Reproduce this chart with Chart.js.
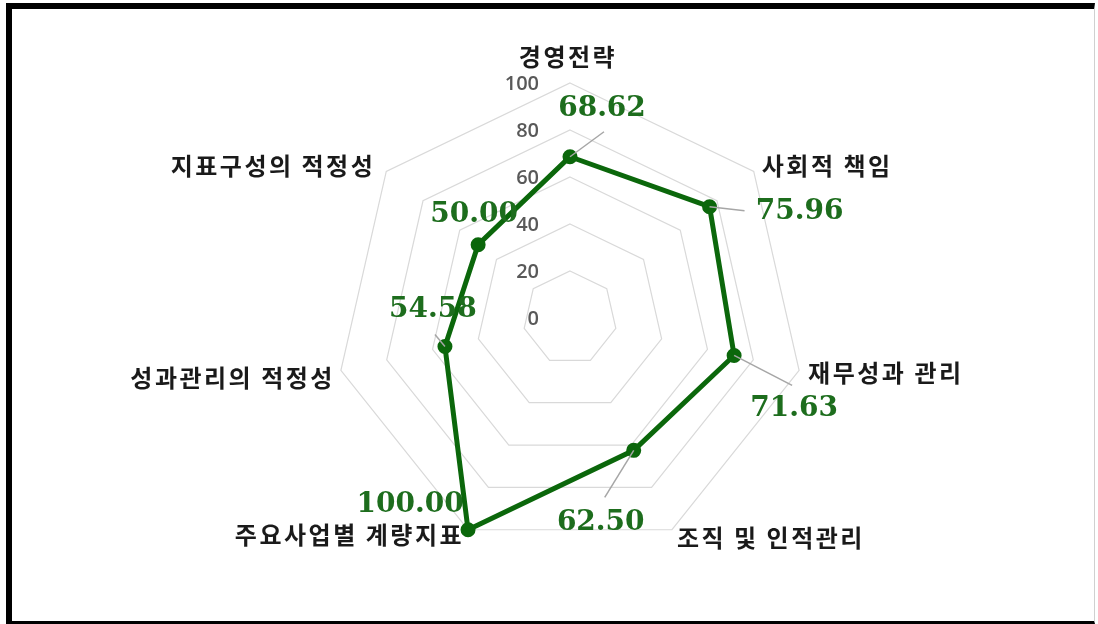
<!DOCTYPE html>
<html>
<head>
<meta charset="utf-8">
<script src="https://cdn.jsdelivr.net/npm/chart.js@4/dist/chart.umd.min.js"></script>
<style>
  html, body { margin: 0; padding: 0; background: #fff; }
  #wrap { position: relative; width: 1098px; height: 624px; overflow: hidden; }
  #frame { position: absolute; left: 6px; top: 3px; width: 1089px; height: 621px;
           border-left: 6px solid #000; border-top: 6px solid #000; border-bottom: 3px solid #000;
           border-right: 1px solid #d0d0d0; box-sizing: border-box; pointer-events: none; }
  canvas { position: absolute; left: 0; top: 0; }
</style>
</head>
<body>
<div id="wrap">
  <canvas id="radar-graph" width="1098" height="624"></canvas>
  <div id="frame"></div>
</div>
<script>
// chart data
const categories = ['경영전략', '사회적 책임', '재무성과 관리', '조직 및 인적관리',
                    '주요사업별 계량지표', '성과관리의 적정성', '지표구성의 적정성'];
const scores = [68.62, 75.96, 71.63, 62.50, 100.00, 54.58, 50.00];
const tickValues = [0, 20, 40, 60, 80, 100];

// label placement (offsets from the outer vertex / data point), px
const catOffsets = [[-2, -26, 'center'], [8, -6, 'left'], [9, 3, 'left'], [5, 8, 'left'],
                    [-4, 5, 'right'], [-6, 8, 'right'], [-11, -6, 'right']];
const valOffsets = [[32, -48], [90, 5], [60, 53], [-33, 72], [-58, -25], [-12, -37], [-4, -30]];
const leaderEnds = [[34, -25], [35, 4], [58, 30], [-29, 47], null, [-10, -12], null];

const GREEN_LINE = '#0b670b';
const GREEN_TEXT = '#1d6d1d';

const labelPlugin = {
	id: 'labels',
	beforeDatasetsDraw(chart) {
		const ctx = chart.ctx;
		const r = chart.scales.r;
		ctx.save();
		ctx.font = '600 20px "Open Sans"';
		ctx.fillStyle = '#595959';
		ctx.textAlign = 'right';
		ctx.textBaseline = 'middle';
		for (const v of tickValues) {
			const d = r.getDistanceFromCenterForValue(v);
			ctx.fillText(String(v), r.xCenter - 31, r.yCenter - d + 1);
		}
		ctx.restore();
	},
	afterDatasetsDraw(chart) {
		const ctx = chart.ctx;
		const r = chart.scales.r;
		const meta = chart.getDatasetMeta(0);
		ctx.save();

		// category labels
		ctx.font = 'bold 24px "Noto Sans CJK KR"';
		ctx.letterSpacing = '2.5px';
		ctx.fillStyle = '#1a1a1a';
		ctx.textBaseline = 'middle';
		categories.forEach((c, i) => {
			const p = r.getPointPosition(i, r.drawingArea);
			const o = catOffsets[i];
			ctx.textAlign = o[2];
			ctx.fillText(c, p.x + o[0], p.y + o[1]);
		});

		// leader lines
		ctx.letterSpacing = '0px';
		ctx.strokeStyle = '#a6a6a6';
		ctx.lineWidth = 1.5;
		meta.data.forEach((pt, i) => {
			const e = leaderEnds[i];
			if (!e) return;
			ctx.beginPath();
			ctx.moveTo(pt.x, pt.y);
			ctx.lineTo(pt.x + e[0], pt.y + e[1]);
			ctx.stroke();
		});

		// value labels
		ctx.font = 'bold 28px "DejaVu Serif"';
		ctx.fillStyle = GREEN_TEXT;
		ctx.textAlign = 'center';
		meta.data.forEach((pt, i) => {
			const o = valOffsets[i];
			ctx.fillText(scores[i].toFixed(2), pt.x + o[0], pt.y + o[1]);
		});
		ctx.restore();
	}
};

var ctx = document.getElementById('radar-graph').getContext('2d');

var radarGraph = new Chart(ctx, {
	type: 'radar',
	data: {
		labels: categories,
		datasets: [{
			data: scores,
			borderColor: GREEN_LINE,
			backgroundColor: GREEN_LINE,
			pointBackgroundColor: GREEN_LINE,
			pointBorderColor: GREEN_LINE,
			pointRadius: 5,
			borderWidth: 5,
			fill: false
		}]
	},
	options: {
		responsive: false,
		animation: false,
		layout: {
			padding: { left: 335, right: 293, top: 83, bottom: 71 }
		},
		plugins: {
			legend: { display: false },
			tooltip: { enabled: false }
		},
		scales: {
			r: {
				min: 0,
				max: 100,
				ticks: { stepSize: 20, display: false },
				grid: { color: '#d9d9d9', lineWidth: 1.2 },
				angleLines: { display: false },
				pointLabels: { display: false }
			}
		}
	},
	plugins: [labelPlugin]
});
</script>
</body>
</html>
